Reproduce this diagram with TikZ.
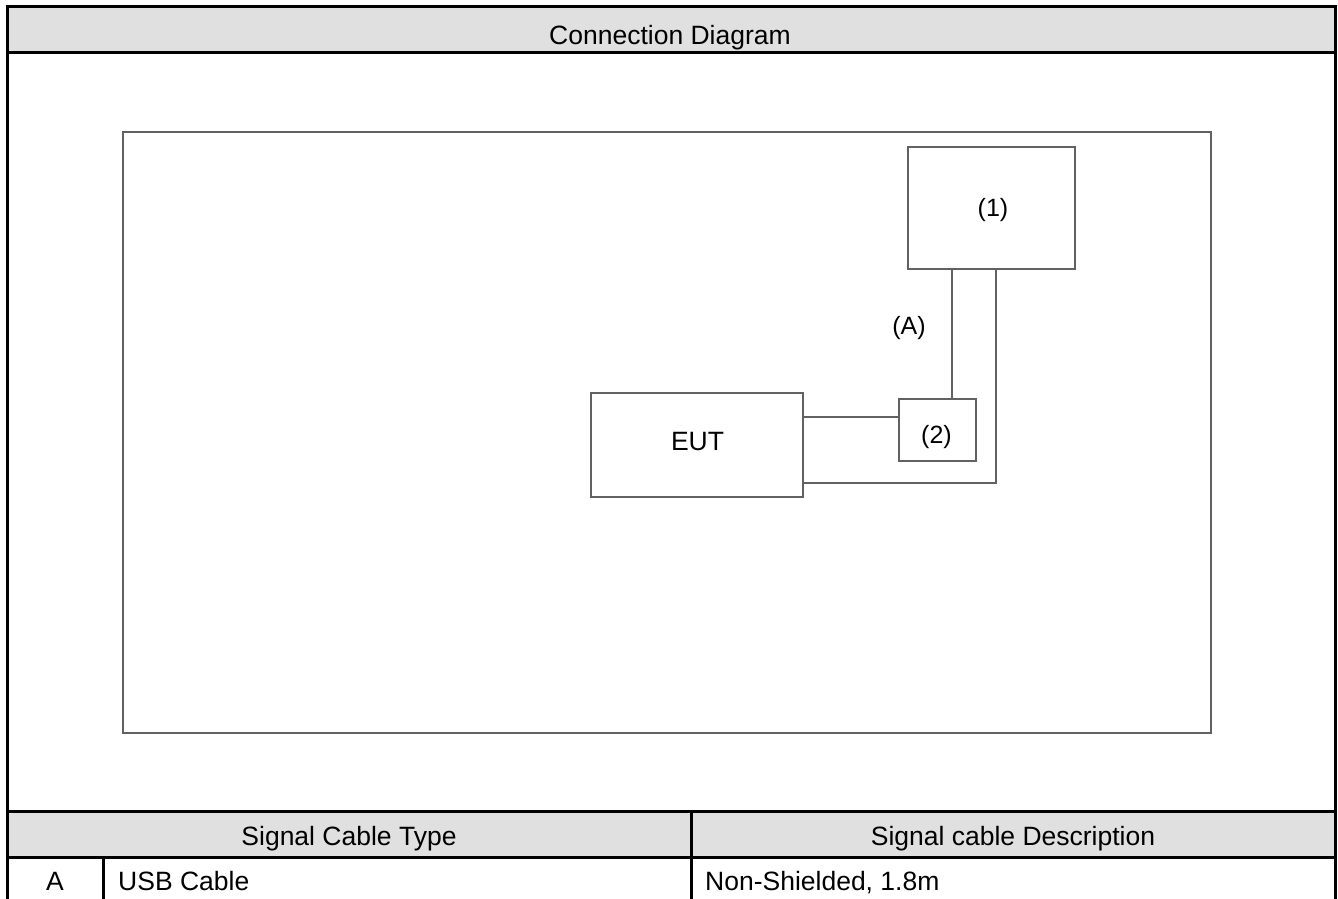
\documentclass[tikz,border=0pt]{standalone}
\usepackage{fontspec}
\setmainfont{Liberation Sans}
\usetikzlibrary{positioning}

\begin{document}
\begin{tikzpicture}[
    x=1pt, y=-1pt,
    cadre/.style={
        line width=3pt,
        draw=black
    },
    entete/.style={
        fill=black!12
    },
    boite/.style={
        rectangle,
        draw=black!62,
        line width=1.4pt,
        inner sep=0pt,
        font=\fontsize{25}{30}\selectfont
    },
    cable/.style={
        draw=black!62,
        line width=1.4pt
    },
    texte/.style={
        inner sep=0pt,
        font=\fontsize{26.5}{30}\selectfont
    }
]

% Page background
\fill[white] (0,0) rectangle (1338,899);
\useasboundingbox (0,0) rectangle (1338,899);

% Header fills
\fill[entete] (7,7) rectangle (1335,53);
\fill[entete] (7,811) rectangle (1335,857);

% Table rules
\draw[cadre] (7,899) -- (7,7) -- (1335,7) -- (1335,899);
\draw[cadre] (7,53) -- (1335,53);
\draw[cadre] (7,811) -- (1335,811);
\draw[cadre] (7,857) -- (1335,857);
\draw[cadre] (691,811) -- (691,899);
\draw[cadre] (103,857) -- (103,899);

% Table texts
\node[texte, anchor=base] (titre) at (670,45) {Connection Diagram};
\node[texte, anchor=base] (type) at (349,845) {Signal Cable Type};
\node[texte, anchor=base] (descr) at (1013,845) {Signal cable Description};
\node[texte, anchor=base] (lettre) at (55,890) {A};
\node[texte, anchor=base west] (usb) at (118,890) {USB Cable};
\node[texte, anchor=base west] (blindage) at (705,890) {Non-Shielded, 1.8m};

% Diagram frame
\draw[cable] (123,132) rectangle (1211,733);

% Equipment
\node[boite, minimum width=167pt, minimum height=122pt] (pc) at (991.5,208) {};
\node[boite, minimum width=212pt, minimum height=104pt] (eut) at (697,445) {};
\node[boite, minimum width=77pt, minimum height=62pt] (adapt) at (937.5,430) {};
\node[texte, font=\fontsize{25}{30}\selectfont] (pcnom) at (993,210) {(1)};
\node[texte] (eutnom) at (697.5,441.5) {EUT};
\node[texte, font=\fontsize{25}{30}\selectfont] (adaptnom) at (936.5,437) {(2)};

% Cables
\draw[cable] ([yshift=13pt]adapt.west) -- ([yshift=13pt]adapt.west -| eut.east);
\draw[cable] ([xshift=14.5pt]adapt.north) -- ([xshift=14.5pt]adapt.north |- pc.south);
\draw[cable] ([xshift=4.5pt]pc.south) |- ([yshift=-38pt]eut.east);

% Cable label
\node[texte, font=\fontsize{25}{30}\selectfont] (lienA) at (909,328) {(A)};

\end{tikzpicture}
\end{document}
